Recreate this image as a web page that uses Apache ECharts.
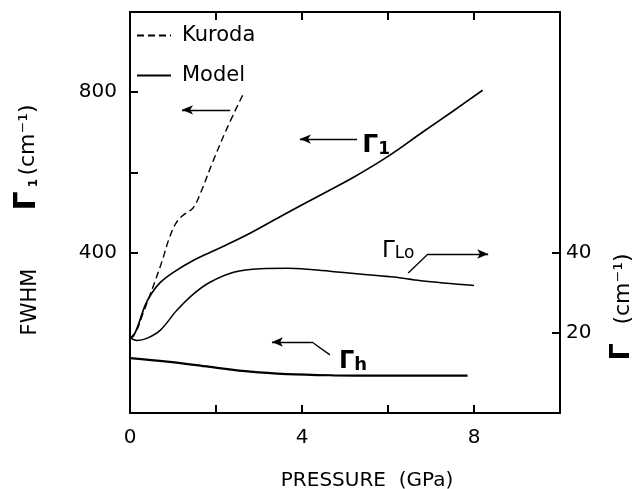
<!DOCTYPE html>
<html>
<head>
<meta charset="utf-8">
<script src="https://cdn.jsdelivr.net/npm/echarts@6/dist/echarts.min.js"></script>
<style>
  html, body { margin: 0; padding: 0; background: #fff; }
  #chart { width: 643px; height: 489px; }
</style>
</head>
<body>
<div id="chart"></div>
<script>
// Pressure (GPa) against line width (cm^-1)
const kurodaP = [0, 0.15, 0.3, 0.45, 0.6, 0.75, 0.9, 1.05, 1.2, 1.47, 1.63, 1.93, 2.26, 2.63];
const kurodaW = [186, 205, 248, 290, 334, 380, 432, 470, 490, 512, 546, 628, 711, 795];

const gamma1P = [0, 0.08, 0.2, 0.35, 0.5, 0.7, 1.0, 1.5, 2.0, 2.7, 3.5, 4.4, 5.2, 6.0, 6.8, 7.5, 8.2];
const gamma1W = [188, 192, 222, 268, 298, 325, 350, 382, 407, 443, 490, 542, 588, 640, 700, 752, 805];

// Gamma_Lo is read on the right-hand axis
const gammaLoP = [0, 0.16, 0.39, 0.7, 1.09, 1.48, 1.86, 2.41, 3.03, 3.65, 4.27, 4.9, 5.52, 6.14, 6.76, 8.0];
const gammaLoW = [18.8, 18.1, 18.6, 20.6, 25.6, 29.7, 32.6, 35.1, 36.0, 36.1, 35.7, 35.1, 34.5, 33.9, 33.0, 31.8];

const gammaHP = [0, 0.86, 1.86, 2.8, 3.65, 4.73, 5.8, 6.76, 7.85];
const gammaHW = [137, 128, 115, 103, 97, 94, 93, 93, 93];

const xTicks = [2, 4, 6, 8];
const xLabels = [0, 4, 8];
const leftTicks = [400, 600, 800];
const leftLabels = [400, 800];
const rightTicks = [20, 40];
const rightLabels = [20, 40];

const zip = (xs, ys) => xs.map((x, i) => [x, ys[i]]);
const FONT = 'DejaVu Sans';
const INK = '#000';

const frameLine = { show: true, onZero: false, lineStyle: { color: INK, width: 2 } };
const innerTick = (values) => ({ show: true, inside: true, length: 8, customValues: values, lineStyle: { color: INK, width: 2 } });
const tickFont = { color: INK, fontSize: 20, fontFamily: FONT };

// arrows and leaders, in data units of the series they belong to
const arrowStyle = { color: INK, width: 1.3, type: 'solid' };
const plain = (a, b) => [{ coord: a, symbol: 'none' }, { coord: b, symbol: 'none' }];
const arrow = (a, b) => [{ coord: a, symbol: 'none' }, { coord: b, symbol: 'arrow' }];

const markLineBase = {
  silent: true, animation: false, symbolSize: [7, 11],
  lineStyle: arrowStyle, label: { show: false }, emphasis: { disabled: true }
};

const tag = (coord, text, rich) => ({
  coord,
  label: { show: true, position: 'right', distance: 0, formatter: text, rich }
});
const markPointBase = { silent: true, animation: false, symbol: 'circle', symbolSize: 0, itemStyle: { color: 'transparent' } };

const richG1 = {
  g: { fontSize: 25, fontWeight: 'bold', fontFamily: FONT, color: INK, lineHeight: 25, verticalAlign: 'bottom' },
  s: { fontSize: 17, fontWeight: 'bold', fontFamily: FONT, color: INK, lineHeight: 17, verticalAlign: 'bottom' }
};
const richLo = {
  g: { fontSize: 23, fontFamily: FONT, color: INK, lineHeight: 23, verticalAlign: 'bottom' },
  s: { fontSize: 17, fontFamily: FONT, color: INK, lineHeight: 15, verticalAlign: 'bottom' }
};
const richH = {
  g: { fontSize: 24, fontWeight: 'bold', fontFamily: FONT, color: INK, lineHeight: 24, verticalAlign: 'bottom' },
  s: { fontSize: 18, fontWeight: 'bold', fontFamily: FONT, color: INK, lineHeight: 16, verticalAlign: 'bottom' }
};

const curve = (name, yAxisIndex, data, lineStyle, extra) => ({
  name, type: 'line', xAxisIndex: 0, yAxisIndex, data,
  symbol: 'none', showSymbol: false, smooth: 0.35, color: INK,
  lineStyle: { color: INK, ...lineStyle }, ...extra
});

const chart = echarts.init(document.getElementById('chart'), null, { renderer: 'canvas' });

chart.setOption({
  animation: false,
  backgroundColor: '#fff',
  color: [INK],
  grid: { left: 130, right: 83, top: 12, bottom: 76 },
  legend: {
    data: ['Kuroda', 'Model'],
    orient: 'vertical', left: 131, top: 20,
    itemWidth: 34, itemHeight: 14, itemGap: 19,
    selectedMode: false,
    itemStyle: { opacity: 0 },
    lineStyle: { width: 2 },
    textStyle: { color: INK, fontSize: 21, fontFamily: FONT, padding: [0, 0, 0, 6] }
  },
  xAxis: [
    { type: 'value', min: 0, max: 10, position: 'bottom',
      axisLine: frameLine, axisTick: innerTick(xTicks),
      axisLabel: { customValues: xLabels, margin: 15, ...tickFont },
      splitLine: { show: false } },
    { type: 'value', min: 0, max: 10, position: 'top',
      axisLine: frameLine, axisTick: innerTick(xTicks),
      axisLabel: { show: false }, splitLine: { show: false } }
  ],
  yAxis: [
    { type: 'value', min: 0, max: 1000, position: 'left',
      axisLine: frameLine, axisTick: innerTick(leftTicks),
      axisLabel: { customValues: leftLabels, margin: 13, ...tickFont },
      splitLine: { show: false } },
    { type: 'value', min: 0, max: 100, position: 'right',
      axisLine: frameLine, axisTick: innerTick(rightTicks),
      axisLabel: { customValues: rightLabels, margin: 6, ...tickFont },
      splitLine: { show: false } }
  ],
  series: [
    curve('Kuroda', 0, zip(kurodaP, kurodaW), { width: 1.4, type: [7, 4] }, {
      markLine: { ...markLineBase, data: [arrow([2.33, 756], [1.21, 756])] }
    }),
    curve('Model', 0, zip(gamma1P, gamma1W), { width: 1.7 }, {
      markLine: { ...markLineBase, data: [arrow([5.28, 683], [3.95, 683])] },
      markPoint: { ...markPointBase, data: [tag([5.40, 666], '{g|Γ}{s|1}', richG1)] }
    }),
    curve('Model', 1, zip(gammaLoP, gammaLoW), { width: 1.5 }, {
      markLine: { ...markLineBase, data: [
        plain([6.47, 34.9], [6.93, 39.65]),
        arrow([6.93, 39.65], [8.33, 39.65])
      ] },
      markPoint: { ...markPointBase, data: [tag([5.86, 40.4], '{g|Γ}{s|Lo}', richLo)] }
    }),
    curve('Model', 0, zip(gammaHP, gammaHW), { width: 2.2 }, {
      markLine: { ...markLineBase, data: [
        plain([4.65, 145], [4.23, 177]),
        arrow([4.23, 177], [3.30, 177])
      ] },
      markPoint: { ...markPointBase, data: [tag([4.86, 127], '{g|Γ}{s|h}', richH)] }
    })
  ],
  graphic: [
    // left axis title, read bottom to top
    { type: 'text', x: 30.5, y: 302, rotation: Math.PI / 2, silent: true,
      style: { text: 'FWHM', fontSize: 21, fontFamily: FONT, fill: INK, align: 'center', verticalAlign: 'middle' } },
    { type: 'text', x: 27, y: 201, rotation: Math.PI / 2, silent: true,
      style: { text: 'Γ', fontSize: 30, fontWeight: 'bold', fontFamily: FONT, fill: INK, align: 'center', verticalAlign: 'middle' } },
    { type: 'text', x: 34, y: 183, rotation: Math.PI / 2, silent: true,
      style: { text: '1', fontSize: 12, fontWeight: 'bold', fontFamily: FONT, fill: INK, align: 'center', verticalAlign: 'middle' } },
    { type: 'text', x: 28, y: 140, rotation: Math.PI / 2, silent: true,
      style: { text: '(cm⁻¹)', fontSize: 22, fontFamily: FONT, fill: INK, align: 'center', verticalAlign: 'middle' } },
    // right axis title
    { type: 'text', x: 622, y: 352, rotation: Math.PI / 2, silent: true,
      style: { text: 'Γ', fontSize: 27, fontWeight: 'bold', fontFamily: FONT, fill: INK, align: 'center', verticalAlign: 'middle' } },
    { type: 'text', x: 623, y: 289, rotation: Math.PI / 2, silent: true,
      style: { text: '(cm⁻¹)', fontSize: 22, fontFamily: FONT, fill: INK, align: 'center', verticalAlign: 'middle' } },
    // x axis title
    { type: 'text', x: 367, y: 481, silent: true,
      style: { text: 'PRESSURE  (GPa)', fontSize: 20, fontFamily: FONT, fill: INK, align: 'center', verticalAlign: 'middle' } }
  ]
});
</script>
</body>
</html>
